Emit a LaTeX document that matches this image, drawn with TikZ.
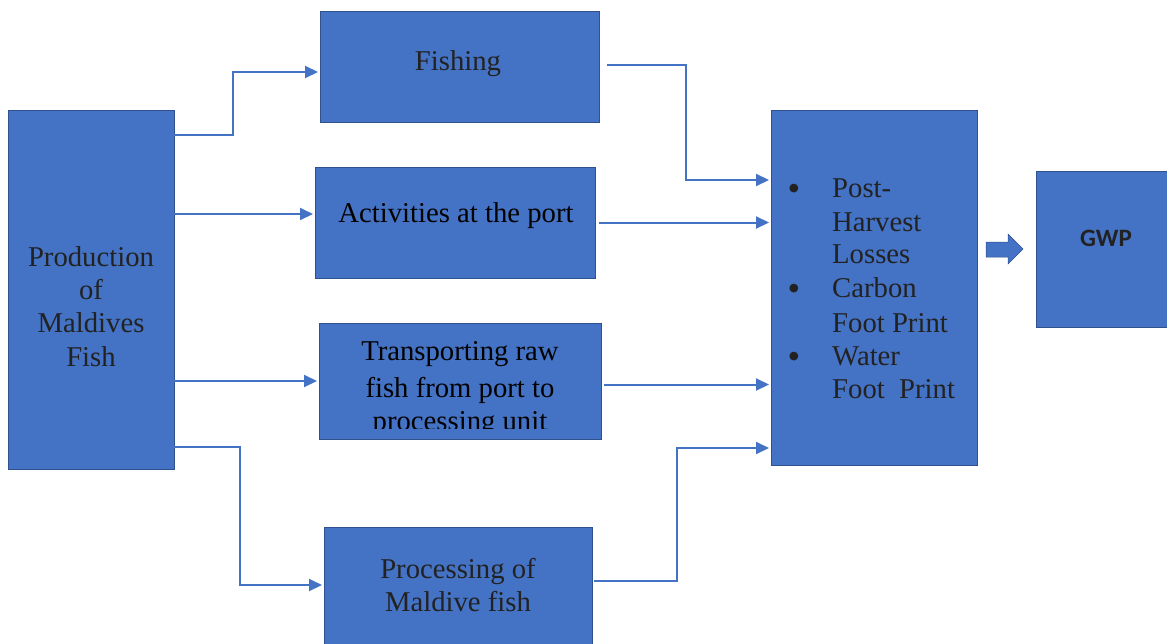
\documentclass[tikz,border=0pt]{standalone}
\usepackage{fontspec}
\setmainfont{Liberation Serif}
\newfontfamily\gwpfont{Carlito}
\usetikzlibrary{arrows.meta}
\definecolor{boxblue}{HTML}{4472C4}
\definecolor{boxedge}{HTML}{2F528F}
\definecolor{txtgray}{HTML}{222222}
\tikzset{
  box/.style={draw=boxedge, line width=0.8pt, fill=boxblue, anchor=north west, inner sep=0pt, outer sep=0pt},
  conn/.style={draw=boxblue, line width=2pt, -{Triangle[length=13pt,width=12pt]}, shorten >=2pt},
  lbl/.style={anchor=base, inner sep=0pt, text=txtgray, font=\fontsize{28.7}{33}\selectfont},
  lblk/.style={lbl, text=black},
  item/.style={lbl, anchor=base west},
  bul/.style={anchor=base, inner sep=0pt, text=txtgray, font=\fontsize{36}{36}\selectfont},
}
\begin{document}
\begin{tikzpicture}[x=1pt,y=-1pt]
\useasboundingbox (0,0) rectangle (1167,643);
\clip (0,0) rectangle (1167,643);

% boxes
\node[box, minimum width=166pt, minimum height=359pt] (prod) at (8,110) {};
\node[box, minimum width=279pt, minimum height=111pt] (fish) at (320,11) {};
\node[box, minimum width=280pt, minimum height=111pt] (port) at (315,167) {};
\node[box, minimum width=282pt, minimum height=116pt] (trans) at (319,323) {};
\node[box, minimum width=268pt, minimum height=124pt] (proc) at (324,527) {};
\node[box, minimum width=206pt, minimum height=355pt] (imp) at (771,110) {};
\node[box, minimum width=140pt, minimum height=156pt] (gwp) at (1036,171) {};

% block arrow
\filldraw[fill=boxblue, draw=boxedge, line width=0.5pt]
  (986,242) -- (1008,242) -- (1008,234) -- (1023,249) -- (1008,264) -- (1008,257) -- (986,257) -- cycle;

% labels
\node[lbl] (prodA) at (91,266) {Production};
\node[lbl] (prodB) at (91,299) {of};
\node[lbl] (prodC) at (91,332) {Maldives};
\node[lbl] (prodD) at (91,366) {Fish};

\node[lbl] (fishA) at (458,70) {Fishing};
\node[lblk] (portA) at (456,222) {Activities at the port};

\begin{scope}
  \clip (trans.north west) rectangle ([yshift=11pt]trans.south east);
  \node[lblk] (transA) at (460,360) {Transporting raw};
  \node[lblk] (transB) at (460,397) {fish from port to};
  \node[lblk] (transC) at (460,430) {processing unit};
\end{scope}

\node[lbl] (procA) at (458,578) {Processing of};
\node[lbl] (procB) at (458,611) {Maldive fish};

\node[bul] (b1) at (794,200) {\textbullet};
\node[item] (impA) at (832,197) {Post-};
\node[item] (impB) at (832,231) {Harvest};
\node[item] (impC) at (832,263) {Losses};
\node[bul] (b2) at (794,300) {\textbullet};
\node[item] (impD) at (832,297) {Carbon};
\node[item] (impE) at (832,332) {Foot Print};
\node[bul] (b3) at (794,368) {\textbullet};
\node[item] (impF) at (832,365) {Water};
\node[item] (impG) at (832,398) {Foot\ \ Print};

\node[anchor=base, inner sep=0pt, text=txtgray, font=\gwpfont\bfseries\fontsize{25}{30}\selectfont] (gwpA) at (1106,246) {GWP};

% connectors
\coordinate (p1) at ([yshift=-25pt]prod.north east);
\coordinate (p2) at ([yshift=-104pt]prod.north east);
\coordinate (p3) at ([yshift=-271pt]prod.north east);
\coordinate (p4) at ([yshift=-337pt]prod.north east);
\draw[conn] (p1) -- ++(59,0) |- ([yshift=-5.5pt]fish.west);
\draw[conn] (p2) -- (p2 -| port.west);
\draw[conn] (p3) -- (p3 -| trans.west);
\draw[conn] (p4) -- ++(66,0) |- ([yshift=4pt]proc.west);

\coordinate (i1) at ([yshift=-70pt]imp.north west);
\coordinate (i4) at ([yshift=-338pt]imp.north west);
\coordinate (t1) at ([yshift=1.5pt]fish.east);
\coordinate (t3) at ([yshift=-3.5pt]trans.east);
\coordinate (t4) at ([yshift=8pt]proc.east);
\draw[conn, shorten <=8pt] (t1) -- ++(87,0) |- (i1);
\draw[conn, shorten <=4pt] (port.east) -- (port.east -| imp.west);
\draw[conn, shorten <=3pt] (t3) -- (t3 -| imp.west);
\draw[conn, shorten <=2pt] (t4) -- ++(85,0) |- (i4);
\end{tikzpicture}
\end{document}
